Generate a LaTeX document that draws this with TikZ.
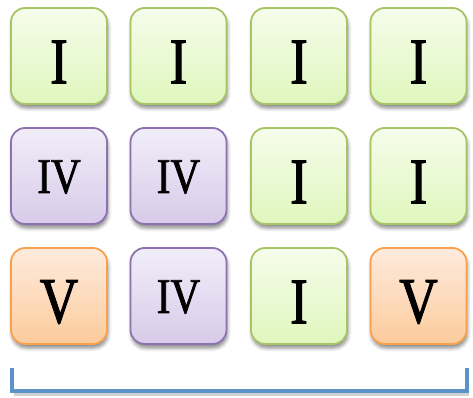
\documentclass[tikz,border=0pt]{standalone}
\usepackage{fontspec}
\setmainfont{Liberation Serif}
\newfontfamily\tilefont[FakeBold=1.5,FakeStretch=0.82]{Liberation Serif}
\usetikzlibrary{shadows.blur}
\definecolor{gtop}{HTML}{F6FCEC}
\definecolor{gbot}{HTML}{DFF7BC}
\definecolor{gline}{HTML}{A6C466}
\definecolor{ptop}{HTML}{F1EDF8}
\definecolor{pbot}{HTML}{D8CBEA}
\definecolor{pline}{HTML}{8E72B0}
\definecolor{otop}{HTML}{FEEBDD}
\definecolor{obot}{HTML}{FCCB9C}
\definecolor{oline}{HTML}{F7A04E}
\definecolor{bracketblue}{HTML}{5B93C9}
\tikzset{
  tile/.style={minimum width=96pt, minimum height=96pt, inner sep=0pt,
    rounded corners=14pt, line width=1.8pt,
    blur shadow={shadow xshift=1pt, shadow yshift=-4pt, shadow opacity=45, shadow blur radius=3.5pt}},
  gtile/.style={tile, draw=gline, top color=gtop, bottom color=gbot},
  ptile/.style={tile, draw=pline, top color=ptop, bottom color=pbot},
  otile/.style={tile, draw=oline, top color=otop, bottom color=obot},
  big/.style={font=\tilefont\fontsize{65}{65}\selectfont, inner sep=0pt},
  small/.style={font=\tilefont\fontsize{50}{50}\selectfont, inner sep=0pt},
  bracketline/.style={draw=bracketblue, line width=4pt},
  bracketshadow/.style={draw=black, opacity=0.18, line width=4pt}
}
\begin{document}
\begin{tikzpicture}[x=1pt,y=-1pt]
\useasboundingbox (0,0) rectangle (473,398);
% row 1
\node[gtile] (t11) at (59,56) {};
\node[gtile] (t12) at (178.5,56) {};
\node[gtile] (t13) at (299,56) {};
\node[gtile] (t14) at (418.5,56) {};
% row 2
\node[ptile] (t21) at (59,176) {};
\node[ptile] (t22) at (178.5,176) {};
\node[gtile] (t23) at (299,176) {};
\node[gtile] (t24) at (418.5,176) {};
% row 3
\node[otile] (t31) at (59,296) {};
\node[ptile] (t32) at (178.5,296) {};
\node[gtile] (t33) at (299,296) {};
\node[otile] (t34) at (418.5,296) {};
% labels
\node[big] (l11) at ([yshift=-6pt]t11.center) {I};
\node[big] (l12) at ([yshift=-6pt]t12.center) {I};
\node[big] (l13) at ([yshift=-6pt]t13.center) {I};
\node[big] (l14) at ([yshift=-6pt]t14.center) {I};
\node[small] (l21) at ([yshift=-1pt]t21.center) {IV};
\node[small] (l22) at ([yshift=-1pt]t22.center) {IV};
\node[big] (l23) at ([yshift=-6pt]t23.center) {I};
\node[big] (l24) at ([yshift=-6pt]t24.center) {I};
\node[big] (l31) at ([yshift=-6pt]t31.center) {V};
\node[small] (l32) at ([yshift=-1pt]t32.center) {IV};
\node[big] (l33) at ([yshift=-6pt]t33.center) {I};
\node[big] (l34) at ([yshift=-6pt]t34.center) {V};
% bracket
\coordinate (bl) at (12,368);
\coordinate (br) at (467,368);
\coordinate (sl) at (14,393.5);
\coordinate (sr) at (469,393.5);
\draw[bracketshadow] (sl) -- (sr);
\draw[bracketline] (bl) |- (br |- 0,391) -- (br);
\end{tikzpicture}
\end{document}
